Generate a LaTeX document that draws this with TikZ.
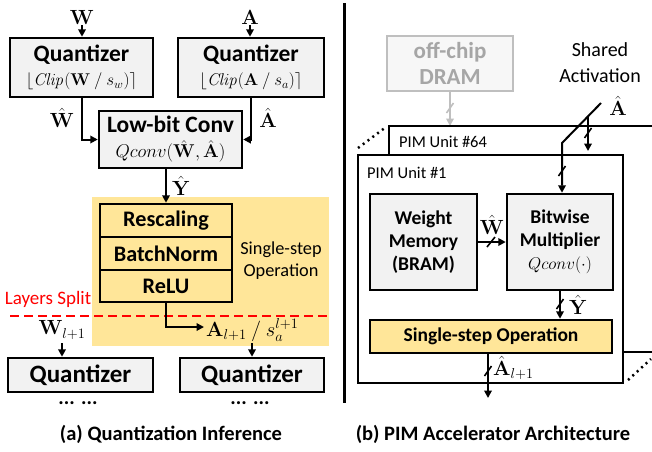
\RequirePackage{fix-cm}
\documentclass[tikz,border=0pt]{standalone}
\usepackage{amsmath}
\usepackage[no-math]{fontspec}
\setmainfont{Carlito}
\usetikzlibrary{arrows.meta}
\definecolor{boxgray}{HTML}{F2F2F2}
\definecolor{yel}{HTML}{FFE699}
\definecolor{dgray}{HTML}{BFBFBF}
\definecolor{tgray}{HTML}{A6A6A6}
\newcommand\fbig{\fontsize{20.5}{23}\selectfont}
\newcommand\fq{\fontsize{23.5}{24}\selectfont}
\newcommand\fqq{\fontsize{25}{26}\selectfont}
\newcommand\fst{\fontsize{22.2}{24}\selectfont}
\newcommand\fmid{\fontsize{19.5}{23}\selectfont}
\newcommand\fss{\fontsize{18.3}{22}\selectfont}
\newcommand\fsm{\fontsize{16.5}{20}\selectfont}
\newcommand\fm{\fontsize{17}{20}\selectfont}
\tikzset{
  box/.style={draw, line width=2.5pt, fill=boxgray, inner sep=0pt, align=center, font=\fq},
  ybox/.style={draw, line width=2.5pt, fill=yel, inner sep=0pt, align=center, font=\fst\bfseries},
  rbox/.style={draw, line width=2.5pt, fill=boxgray, inner sep=0pt, align=center, font=\fmid\bfseries},
  lbl/.style={inner sep=1pt, font=\fbig},
  arr/.style={line width=2pt, -{Triangle[length=7.5pt,width=7.5pt]}},
  bus/.style={line width=1.6pt},
  thickline/.style={line width=2.5pt},
}
\begin{document}
\begin{tikzpicture}[x=1pt,y=-1pt]
\useasboundingbox (0,0) rectangle (652,451);

% ---------------- (a) ----------------
\node[lbl] (W) at (82,17) {$\mathbf{W}$};
\node[lbl] (A) at (250,17) {$\mathbf{A}$};
\node[box, minimum width=143pt, minimum height=59pt] (q1) at (81.5,67.5)
  {\textbf{Quantizer}\\{\fm$\lfloor \mathit{Clip}(\mathbf{W}\ /\ s_w)\rceil$}};
\node[box, minimum width=146pt, minimum height=59pt] (q2) at (251,67.5)
  {\textbf{Quantizer}\\{\fm$\lfloor \mathit{Clip}(\mathbf{A}\ /\ s_a)\rceil$}};
\node[box, minimum width=143pt, minimum height=57pt] (lc) at (170.5,139.5)
  {\textbf{Low-bit Conv}\\[1pt]{\fontsize{18.5}{20}\selectfont$Qconv(\hat{\mathbf{W}},\hat{\mathbf{A}})$}};
\draw[arr] (W) -- (W |- q1.north);
\draw[arr] (A) -- (A |- q2.north);
\draw[arr] (q1.south) |- (lc.west);
\draw[arr] (q2.south) |- (lc.east);
\node[lbl] (Wh) at (62,118) {$\hat{\mathbf{W}}$};
\node[lbl] (Ah) at (268,118) {$\hat{\mathbf{A}}$};

\node[fill=yel, minimum width=237pt, minimum height=149pt, inner sep=0pt] (band) at (210.5,271.5) {};
\node[ybox, minimum width=132pt, minimum height=33pt] (resc) at (166,220.5) {Rescaling};
\node[ybox, minimum width=132pt, minimum height=33pt] (bn) at (166,253.5) {BatchNorm};
\node[ybox, minimum width=132pt, minimum height=32pt] (relu) at (166,286) {ReLU};
\draw[arr] (resc.north |- lc.south) -- (resc.north);
\node[lbl] (Yh) at (181,186) {$\hat{\mathbf{Y}}$};
\node[align=center, font=\fss, inner sep=0pt] (ss) at (281,261) {Single-step\\Operation};

\coordinate (spl) at (10,316);
\coordinate (spr) at (330,316);
\draw[red, line width=2.5pt, dash pattern=on 9pt off 5pt] (spl) -- (spr);
\node[text=red, font=\fontsize{19}{20}\selectfont, inner sep=0pt] (ls) at (48,299) {Layers Split};

\coordinate (arel) at (204,327);
\draw[arr] (relu.south) |- (arel);
\node[lbl, anchor=west] (anext) at (205,330) {$\mathbf{A}_{l+1}\ /\ s_a^{l+1}$};
\node[lbl] (wnext) at (62,330) {$\mathbf{W}_{l+1}$};

\node[box, font=\fqq, minimum width=145pt, minimum height=34pt] (q3) at (80.5,375) {\textbf{Quantizer}};
\node[box, font=\fqq, minimum width=144pt, minimum height=34pt] (q4) at (252,375) {\textbf{Quantizer}};
\coordinate (a4) at (252,343);
\coordinate (w3) at (62,343);
\draw[arr] (a4) -- (a4 |- q4.north);
\draw[arr] (w3) -- (w3 |- q3.north);
\node[lbl, font=\fbig\bfseries] (d1) at (78,403) {... ...};
\node[lbl, font=\fbig\bfseries] (d2) at (250,403) {... ...};
\node[lbl, font=\fbig\bfseries] (capa) at (171,434) {(a) Quantization Inference};

% divider
\coordinate (dvt) at (344,3);
\coordinate (dvb) at (344,403);
\draw[line width=3pt] (dvt) -- (dvb);

% ---------------- (b) ----------------
\node[draw=dgray, line width=2.5pt, fill=boxgray!60, text=tgray, font=\fontsize{23}{26}\selectfont\bfseries, align=center,
      minimum width=126pt, minimum height=55pt, inner sep=0pt] (dram) at (450,63.5) {off-chip\\DRAM};
\coordinate (p64t) at (450,126);
\draw[arr, draw=dgray, fill=dgray] (dram.south) -- (p64t);
\coordinate (sl0) at (450,108);
\draw[bus, dgray] ([shift={(-3.5,5)}]sl0) -- ([shift={(3.5,-5)}]sl0);

\node[align=center, font=\fontsize{20}{26}\selectfont, inner sep=0pt] (sha) at (600,63) {Shared\\Activation};
\node[lbl] (Ahr) at (618,106) {$\hat{\mathbf{A}}$};

% PIM unit #64 outline
\coordinate (p64r) at (656,126);
\coordinate (p64l) at (389,126);
\coordinate (p64b) at (389,156);
\coordinate (p64br) at (623,352);
\coordinate (p64bx) at (656,352);
\draw[thickline] (p64r) -- (p64l) -- (p64b);
\draw[thickline] (p64br) -- (p64bx);
\node[anchor=west, font=\fsm, inner sep=0pt] (t64) at (399,142) {PIM Unit \#64};
\coordinate (dt1) at (358,148);
\coordinate (dt2) at (386,127);
\draw[line width=2.5pt, dash pattern=on 2pt off 4pt] (dt1) -- (dt2);
\coordinate (dt3) at (628,380);
\coordinate (dt4) at (651,359);
\draw[line width=2.5pt, dash pattern=on 2pt off 4pt] (dt3) -- (dt4);

% PIM unit #1
\node[draw, line width=2.5pt, fill=white, minimum width=265pt, minimum height=228pt, inner sep=0pt] (p1) at (490.5,269) {};
\node[anchor=west, font=\fsm, inner sep=0pt] (t1) at (367,173) {PIM Unit \#1};

\node[rbox, minimum width=107pt, minimum height=96pt] (wm) at (423.5,242) {Weight\\Memory\\(BRAM)};
\node[rbox, minimum width=106pt, minimum height=96pt] (bm) at (560,242) {Bitwise\\Multiplier\\{\mdseries\fm$Qconv(\cdot)$}};
\node[draw, line width=2.5pt, fill=yel, inner sep=0pt, font=\fmid\bfseries,
      minimum width=242pt, minimum height=33pt] (sso) at (491,336.5) {Single-step Operation};

% shared activation
\coordinate (sa0) at (601,103);
\coordinate (sa1) at (562,143);
\draw[arr] (sa0) -- (sa1) -- (sa1 |- bm.north);
\coordinate (br0) at (588,117);
\coordinate (br1) at (588,151);
\draw[arr] (br0) -- (br1);
\coordinate (sl1) at (588,133);
\coordinate (sl2) at (562,171);
\draw[bus] ([shift={(-3.5,5)}]sl1) -- ([shift={(3.5,-5)}]sl1);
\draw[bus] ([shift={(-3.5,5)}]sl2) -- ([shift={(3.5,-5)}]sl2);

% W hat
\draw[arr] (wm.east) -- (bm.west);
\coordinate (sl3) at (491,242);
\draw[bus] ([shift={(-4,5)}]sl3) -- ([shift={(4,-5)}]sl3);
\node[lbl] (Whr) at (492,225) {$\hat{\mathbf{W}}$};

% Y hat
\draw[arr] (bm.south) -- (bm.south |- sso.north);
\coordinate (sl4) at (560,304);
\draw[bus] ([shift={(-3.5,5)}]sl4) -- ([shift={(3.5,-5)}]sl4);
\node[lbl] (Yhr) at (578,305) {$\hat{\mathbf{Y}}$};

% output
\coordinate (aout) at (488,398);
\draw[arr] (sso.south -| aout) -- (aout);
\coordinate (sl5) at (488,371);
\draw[bus] ([shift={(-3.5,5)}]sl5) -- ([shift={(3.5,-5)}]sl5);
\node[lbl, anchor=west] (Aout) at (492,368) {$\hat{\mathbf{A}}_{l+1}$};

\node[lbl, font=\fbig\bfseries] (capb) at (493,434) {(b) PIM Accelerator Architecture};
\end{tikzpicture}
\end{document}
